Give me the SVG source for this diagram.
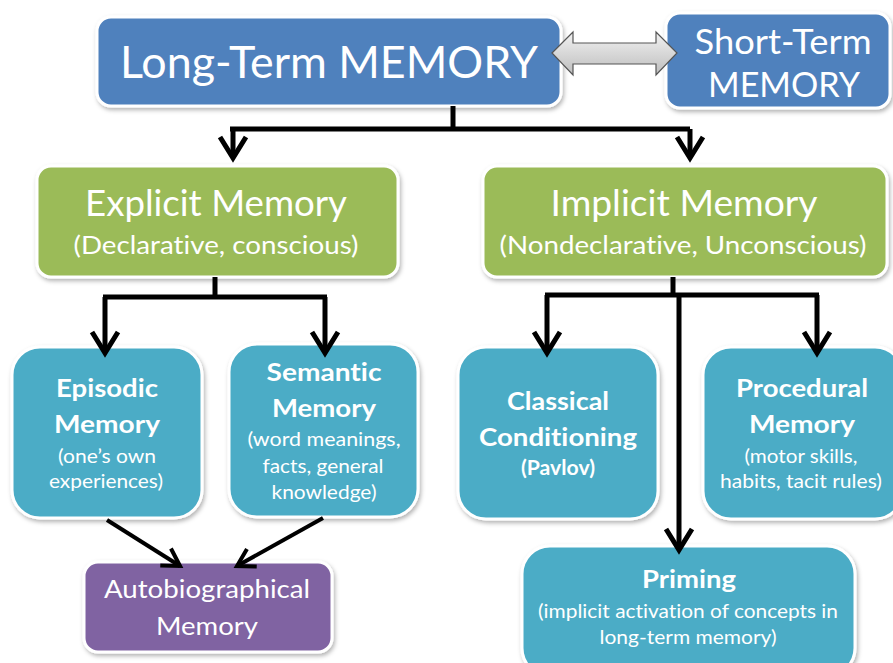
<svg xmlns="http://www.w3.org/2000/svg" width="893" height="663" viewBox="0 0 893 663">
<defs>
<style>
.box{stroke:#fff;stroke-width:3;filter:url(#sh)}
.blue{fill:#4F81BD}.green{fill:#9BBB59}.teal{fill:#4BACC6}.purple{fill:#8064A2}
text{font-family:Lato,"Liberation Sans",sans-serif;fill:#fff;text-anchor:middle;font-variant-ligatures:none}
.b{font-weight:bold}
.conn{fill:none;stroke:#000;stroke-width:5}
.thin{fill:none;stroke:#000;stroke-width:4}
</style>
<filter id="sh" x="-10%" y="-10%" width="125%" height="130%">
<feDropShadow dx="1.5" dy="2.5" stdDeviation="2" flood-color="#000" flood-opacity="0.3"/>
</filter>
<linearGradient id="gg" x1="0" y1="0" x2="0" y2="1">
<stop offset="0" stop-color="#f2f2f2"/><stop offset="1" stop-color="#bdbdbd"/>
</linearGradient>
<marker id="ah" markerUnits="userSpaceOnUse" viewBox="-30 -20 36 40" refX="0" refY="0" markerWidth="36" markerHeight="40" orient="auto" overflow="visible">
<path d="M-21,-13 L0,0 L-21,13" fill="none" stroke="#000" stroke-width="5"/>
</marker>
<marker id="ahs" markerUnits="userSpaceOnUse" viewBox="-24 -16 30 32" refX="0" refY="0" markerWidth="30" markerHeight="32" orient="auto" overflow="visible">
<path d="M-17,-10 L0,0 L-17,10" fill="none" stroke="#000" stroke-width="4"/>
</marker>
</defs>
<rect width="893" height="663" fill="#fff"/>

<g id="ltm">
<rect class="box blue" x="97" y="17" width="464" height="89" rx="14"/>
<text x="329" y="78" font-size="44" textLength="418" lengthAdjust="spacingAndGlyphs">Long-Term MEMORY</text>
</g>
<g id="stm">
<rect class="box blue" x="666" y="13" width="224" height="95" rx="14"/>
<text x="783" y="54" font-size="34" textLength="177" lengthAdjust="spacingAndGlyphs">Short-Term</text>
<text x="784" y="97" font-size="34" textLength="152" lengthAdjust="spacingAndGlyphs">MEMORY</text>
</g>
<g id="explicit">
<rect class="box green" x="37" y="166" width="361" height="111" rx="14"/>
<text x="216" y="216" font-size="36" textLength="262" lengthAdjust="spacingAndGlyphs">Explicit Memory</text>
<text x="216" y="254" font-size="25" textLength="285" lengthAdjust="spacingAndGlyphs">(Declarative, conscious)</text>
</g>
<g id="implicit">
<rect class="box green" x="483" y="166" width="404" height="111" rx="14"/>
<text x="684" y="216" font-size="36" textLength="267" lengthAdjust="spacingAndGlyphs">Implicit Memory</text>
<text x="683" y="254" font-size="25" textLength="367" lengthAdjust="spacingAndGlyphs">(Nondeclarative, Unconscious)</text>
</g>
<g id="episodic">
<rect class="box teal" x="12" y="347" width="190" height="171" rx="28"/>
<text class="b" x="107" y="397" font-size="25" textLength="102" lengthAdjust="spacingAndGlyphs">Episodic</text>
<text class="b" x="107" y="433" font-size="25" textLength="106" lengthAdjust="spacingAndGlyphs">Memory</text>
<text x="107" y="463" font-size="19" textLength="98" lengthAdjust="spacingAndGlyphs">(one’s own</text>
<text x="106" y="488" font-size="19" textLength="114" lengthAdjust="spacingAndGlyphs">experiences)</text>
</g>
<g id="semantic">
<rect class="box teal" x="229" y="344" width="189" height="173" rx="28"/>
<text class="b" x="324" y="381" font-size="25" textLength="115" lengthAdjust="spacingAndGlyphs">Semantic</text>
<text class="b" x="324" y="417" font-size="25" textLength="104" lengthAdjust="spacingAndGlyphs">Memory</text>
<text x="324" y="446" font-size="19" textLength="153" lengthAdjust="spacingAndGlyphs">(word meanings,</text>
<text x="323" y="473" font-size="19" textLength="121" lengthAdjust="spacingAndGlyphs">facts, general</text>
<text x="324" y="499" font-size="19" textLength="105" lengthAdjust="spacingAndGlyphs">knowledge)</text>
</g>
<g id="classical">
<rect class="box teal" x="458" y="347" width="200" height="172" rx="28"/>
<text class="b" x="558" y="410" font-size="25" textLength="102" lengthAdjust="spacingAndGlyphs">Classical</text>
<text class="b" x="558" y="446" font-size="25" textLength="158" lengthAdjust="spacingAndGlyphs">Conditioning</text>
<text class="b" x="558" y="475" font-size="20" textLength="74" lengthAdjust="spacingAndGlyphs">(Pavlov)</text>
</g>
<g id="procedural">
<rect class="box teal" x="703" y="347" width="200" height="172" rx="28"/>
<text class="b" x="802" y="397" font-size="25" textLength="132" lengthAdjust="spacingAndGlyphs">Procedural</text>
<text class="b" x="802" y="433" font-size="25" textLength="106" lengthAdjust="spacingAndGlyphs">Memory</text>
<text x="801" y="463" font-size="19" textLength="113" lengthAdjust="spacingAndGlyphs">(motor skills,</text>
<text x="801" y="488" font-size="19" textLength="162" lengthAdjust="spacingAndGlyphs">habits, tacit rules)</text>
</g>
<g id="priming">
<rect class="box teal" x="522" y="546" width="333" height="130" rx="28"/>
<text class="b" x="689" y="588" font-size="25" textLength="94" lengthAdjust="spacingAndGlyphs">Priming</text>
<text x="688" y="618" font-size="19" textLength="300" lengthAdjust="spacingAndGlyphs">(implicit activation of concepts in</text>
<text x="688" y="644" font-size="19" textLength="177" lengthAdjust="spacingAndGlyphs">long-term memory)</text>
</g>
<g id="autobiographical">
<rect class="box purple" x="84" y="562" width="248" height="90" rx="14"/>
<text x="207" y="598" font-size="25" textLength="206" lengthAdjust="spacingAndGlyphs">Autobiographical</text>
<text x="207" y="635" font-size="25" textLength="102" lengthAdjust="spacingAndGlyphs">Memory</text>
</g>

<g id="connectors">
<polygon points="552,53 573,32 573,43 656,43 656,32 677,53 656,75 656,64 573,64 573,75" fill="url(#gg)" stroke="#555" stroke-width="1.2"/>
<path class="conn" d="M453,106 V129"/>
<path class="conn" d="M230,129 H690"/>
<path class="conn" d="M233,129 V158" marker-end="url(#ah)"/>
<path class="conn" d="M690,129 V158" marker-end="url(#ah)"/>
<path class="conn" d="M215,277 V297"/>
<path class="conn" d="M103,297 H327"/>
<path class="conn" d="M105,297 V353" marker-end="url(#ah)"/>
<path class="conn" d="M325,297 V353" marker-end="url(#ah)"/>
<path class="conn" d="M673,277 V295"/>
<path class="conn" d="M545,295 H819"/>
<path class="conn" d="M547,295 V353" marker-end="url(#ah)"/>
<path class="conn" d="M817,295 V353" marker-end="url(#ah)"/>
<path class="conn" d="M679,295 V550" marker-end="url(#ah)"/>
<path class="thin" d="M107,520 L180,566" marker-end="url(#ahs)"/>
<path class="thin" d="M323,518 L237,566" marker-end="url(#ahs)"/>
</g>
</svg>
